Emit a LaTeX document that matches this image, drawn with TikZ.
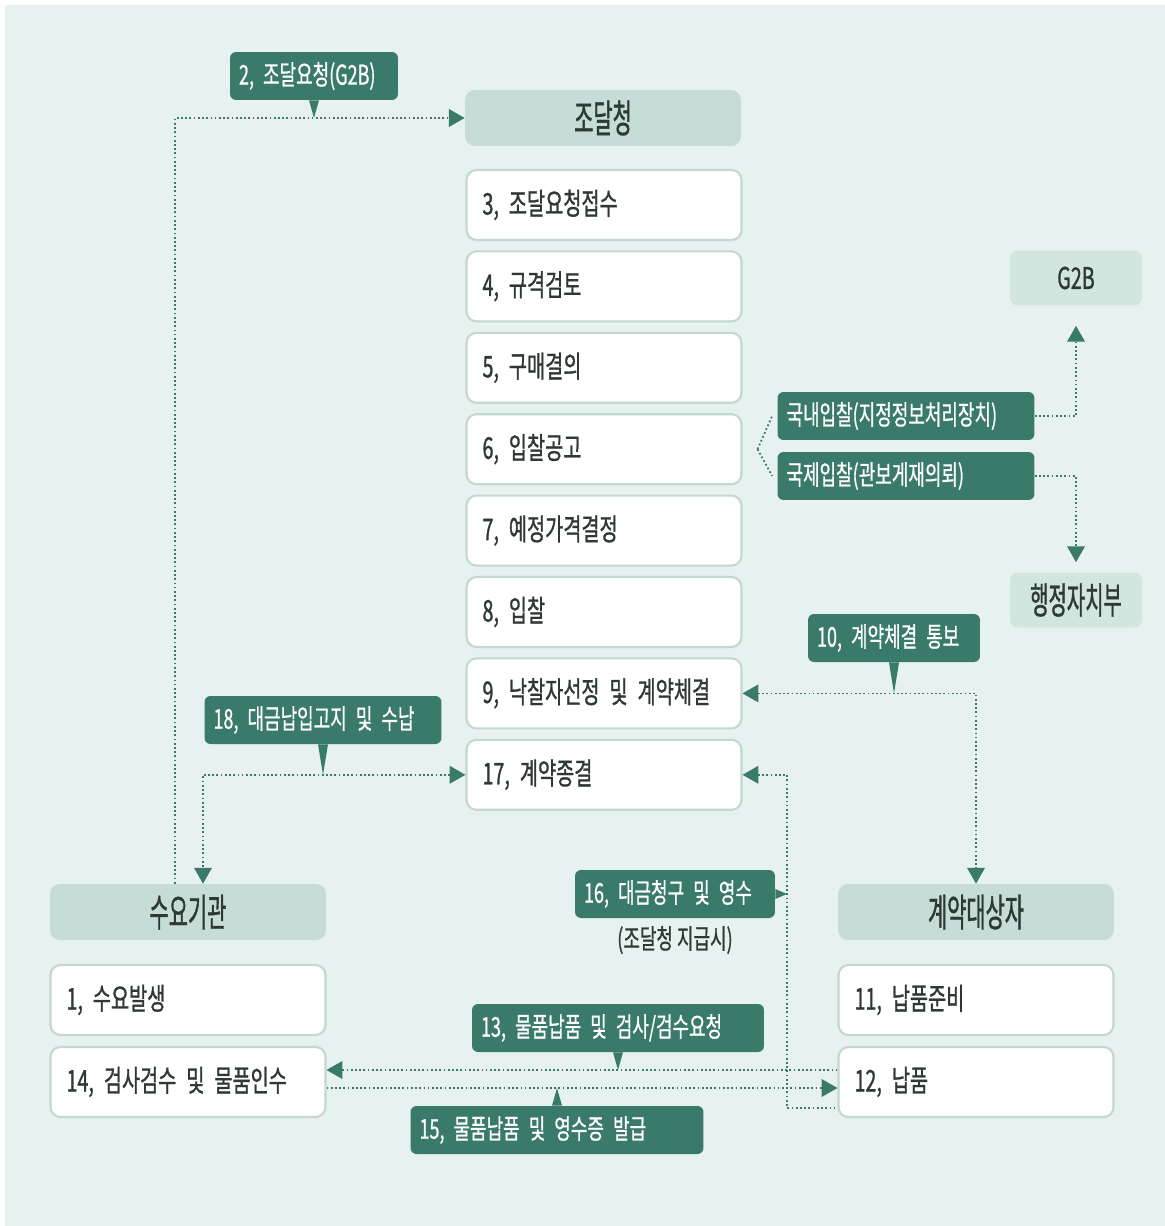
\documentclass[tikz,border=0pt]{standalone}
\usepackage{fontspec}
\newfontfamily\krbox[FakeStretch=0.66, FakeBold=0.9]{Noto Sans CJK KR}
\newfontfamily\krhead[FakeStretch=0.54, FakeBold=0.9]{Noto Sans CJK KR}
\newfontfamily\krtag[FakeStretch=0.66, FakeBold=0.7]{Noto Sans CJK KR}
\usetikzlibrary{calc}
\usetikzlibrary{arrows.meta}
\definecolor{bgpanel}{HTML}{E7F1EF}
\definecolor{headfill}{HTML}{C5DDD6}
\definecolor{sidefill}{HTML}{D2E5DF}
\definecolor{tagfill}{HTML}{3A7A6A}
\definecolor{boxline}{HTML}{C3D8D1}
\definecolor{inktext}{HTML}{2E3835}

\begin{document}
\begin{tikzpicture} [x=0.02cm, y=-0.02cm,
headbox/.style={fill=headfill, rounded corners=0.2cm, minimum width=5.52cm, minimum height=1.12cm, text=inktext, font=\krhead\fontsize{22}{24}\selectfont},
stepbox/.style={draw=boxline, line width=1.2pt, fill=white, rounded corners=0.2cm, minimum height=1.4cm, inner xsep=0.32cm, text width=4.86cm, align=left, text=inktext, font=\krbox\fontsize{17}{19}\selectfont},
sidebox/.style={fill=sidefill, rounded corners=0.16cm, minimum width=2.64cm, minimum height=1.1cm, text=inktext},
tagbox/.style={fill=tagfill, rounded corners=0.12cm, minimum height=0.96cm, inner xsep=0.18cm, align=left, text=white, font=\krtag\fontsize{15.5}{17}\selectfont},
flow/.style={tagfill, line width=1pt, dash pattern=on 1pt off 1.4pt},
>={Triangle[length=9pt, width=10pt]}]

\useasboundingbox (0,0) rectangle (1165,1226);
\fill[white] (0,0) rectangle (1165,1226);
\fill[bgpanel] (5,5) rectangle (1165,1226);

\node[headbox] (jd) at (603,118) {조달청};
\foreach \n/\t [count=\i] in {3/조달요청접수, 4/규격검토, 5/구매결의, 6/입찰공고, 7/예정가격결정, 8/입찰, 9/낙찰자선정 및 계약체결, 17/계약종결}
\node[stepbox] (p\n) at (604,{205+81.4*(\i-1)}) {\n, \t};

\node[headbox] (sy) at (188,912) {수요기관};
\node[stepbox] (p1) at (188,1000) {1, 수요발생};
\node[stepbox] (p14) at (188,1082) {14, 검사검수 및 물품인수};
\node[headbox] (gd) at (976,912) {계약대상자};
\node[stepbox] (p11) at (976,1000) {11, 납품준비};
\node[stepbox] (p12) at (976,1082) {12, 납품};

\node[sidebox, font=\krbox\fontsize{17}{19}\selectfont] (g2b) at (1076,278) {G2B};
\node[sidebox, font=\krhead\fontsize{21}{23}\selectfont] (mois) at (1076,600) {행정자치부};

\node[tagbox, text width=3.0cm] (c2) at (314,76) {2, 조달요청(G2B)};
\node[tagbox, text width=4.78cm] (gn) at (906,416) {국내입찰(지정정보처리장치)};
\node[tagbox, text width=4.78cm] (gj) at (906,476) {국제입찰(관보게재의뢰)};
\node[tagbox, text width=3.08cm] (c10) at (894,638) {10, 계약체결 통보};
\node[tagbox, text width=4.38cm] (c18) at (323,720) {18, 대금납입고지 및 수납};
\node[tagbox, text width=3.64cm] (c16) at (675,894) {16, 대금청구 및 영수};
\node[text=inktext, font=\krtag\fontsize{15.5}{17}\selectfont] (n16) at (675,940) {(조달청 지급시)};
\node[tagbox, text width=5.48cm] (c13) at (618,1028) {13, 물품납품 및 검사/검수요청};
\node[tagbox, text width=5.5cm] (c15) at (557,1130) {15, 물품납품 및 영수증 발급};

\draw[flow,->] ([xshift=-0.26cm]sy.north) |- (jd.west);
\fill[tagfill] ($(c2.south)+(-5,0)$) -- ($(c2.south)+(5,0)$) -- (c2.south |- jd.west) -- cycle;

\draw[flow] ([xshift=0.3cm]p6.east) -- ([xshift=-0.1cm]gn.west);
\draw[flow] ([xshift=0.3cm]p6.east) -- ([xshift=-0.1cm]gj.west);
\draw[flow,->,shorten >=0.4cm] (gn.east) -| (g2b.south);
\draw[flow,->,shorten >=0.2cm] (gj.east) -| (mois.north);

\draw[flow,<->] (p9.east) -| (gd.north);
\fill[tagfill] ($(c10.south)+(-5,0)$) -- ($(c10.south)+(5,0)$) -- (c10.south |- p9.east) -- cycle;

\draw[flow,<->] (p17.west) -| ([xshift=0.3cm]sy.north);
\fill[tagfill] ($(c18.south)+(-5,0)$) -- ($(c18.south)+(5,0)$) -- (c18.south |- p17.west) -- cycle;

\coordinate (pay) at (787,1108);
\draw[flow,<-] (p17.east) -| (pay) -- (pay -| p12.west);
\fill[tagfill] ($(c16.east)+(0,-5)$) -- ($(c16.east)+(0,5)$) -- (c16.east -| pay) -- cycle;

\coordinate (d13) at ([yshift=0.24cm]p12.west);
\coordinate (d15) at ([yshift=-0.12cm]p14.east);
\draw[flow,->] (d13) -- (d13 -| p14.east);
\draw[flow,->] (d15) -- (d15 -| p12.west);
\fill[tagfill] ($(c13.south)+(-5,0)$) -- ($(c13.south)+(5,0)$) -- (c13.south |- d13) -- cycle;
\fill[tagfill] ($(c15.north)+(-5,0)$) -- ($(c15.north)+(5,0)$) -- (c15.north |- d15) -- cycle;

\end{tikzpicture}
\end{document}
